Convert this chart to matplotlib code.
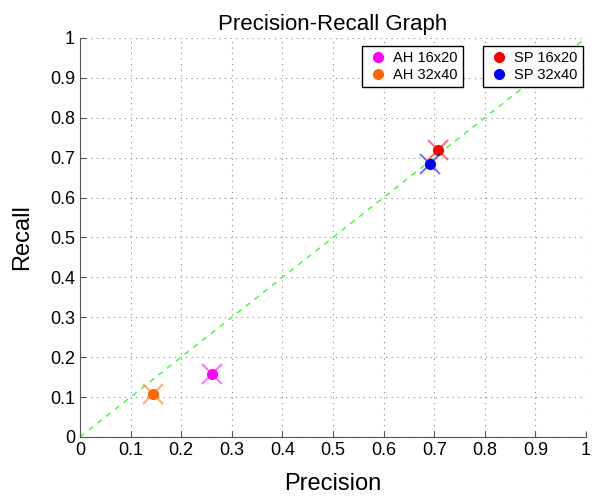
import numpy as np
from matplotlib import pyplot as plt

plt.rcParams['font.family'] = ['Liberation Sans', 'DejaVu Sans']

# Data
labels = ['AH 16x20', 'AH 32x40', 'SP 16x20', 'SP 32x40']
precision = [0.261, 0.144, 0.707, 0.692]
recall = [0.157, 0.108, 0.718, 0.683]
colors = ['#ff00ff', '#ff6600', '#ff0000', '#0000ff']
ticks = np.round(np.arange(0, 1.01, 0.1), 1)

fig = plt.figure(figsize=(5.92, 4.98), dpi=100)
ax = fig.add_axes([0.135, 0.1225, 0.855, 0.8015])

# Diagonal reference line
ax.plot([0, 1], [0, 1], color='#33ff33', linestyle='--', linewidth=1, dashes=(4, 4))

handles = []
for p, r, c, lab in zip(precision, recall, colors, labels):
    ax.plot(p, r, marker='x', color=c, alpha=0.55, markersize=14, markeredgewidth=1.5, linestyle='none')
    h, = ax.plot(p, r, marker='o', color=c, markersize=7, linestyle='none', label=lab)
    handles.append(h)

ax.set_xlim(0, 1)
ax.set_ylim(0, 1)
ax.set_xticks(ticks)
ax.set_yticks(ticks)
ax.set_xticklabels([('%g' % t) for t in ticks])
ax.set_yticklabels([('%g' % t) for t in ticks])
ax.tick_params(direction='in', labelsize=13, length=4, color='#555555')
ax.grid(True, linestyle=(0, (1, 4)), color='#888888', linewidth=0.8)

for s in ['top', 'right']:
    ax.spines[s].set_visible(False)
for s in ['left', 'bottom']:
    ax.spines[s].set_color('#555555')

ax.set_title('Precision-Recall Graph', fontsize=16, pad=6)
ax.set_xlabel('Precision', fontsize=17, labelpad=10)
ax.set_ylabel('Recall', fontsize=17, labelpad=12)

leg_opts = dict(loc='upper left', fontsize=10.5, frameon=True, fancybox=False, edgecolor='black',
                framealpha=1, handletextpad=0.3, borderpad=0.35, labelspacing=0.2,
                handlelength=1.5, borderaxespad=0)
leg1 = ax.legend(handles=handles[:2], bbox_to_anchor=(0.557, 0.98), **leg_opts)
leg1.get_frame().set_linewidth(1)
ax.add_artist(leg1)
leg2 = ax.legend(handles=handles[2:], bbox_to_anchor=(0.796, 0.98), **leg_opts)
leg2.get_frame().set_linewidth(1)

plt.savefig('out.png', dpi=100)
